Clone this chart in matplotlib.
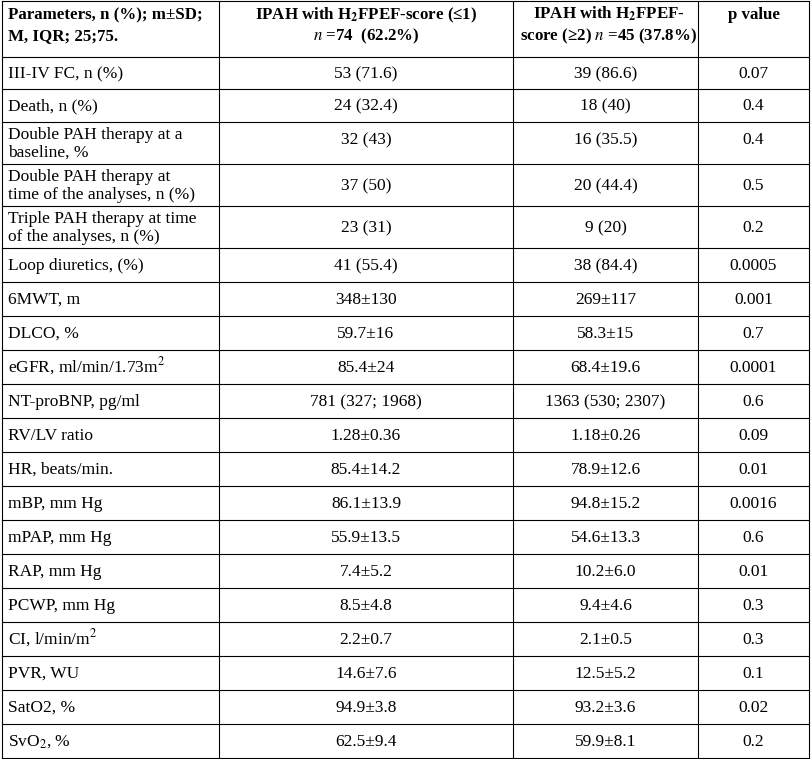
import matplotlib
matplotlib.use("Agg")
import matplotlib.pyplot as plt

plt.rcParams['font.family'] = ['Liberation Serif', 'DejaVu Serif']
plt.rcParams['mathtext.fontset'] = 'stix'

# datos de la tabla
parametros = ["III-IV FC, n (%)", "Death, n (%)",
              "Double PAH therapy at a\nbaseline, %",
              "Double PAH therapy at\ntime of the analyses, n (%)",
              "Triple PAH therapy at time\nof the analyses, n (%)",
              "Loop diuretics, (%)", "6MWT, m", "DLCO, %",
              "eGFR, ml/min/1.73m$^2$", "NT-proBNP, pg/ml", "RV/LV ratio",
              "HR, beats/min.", "mBP, mm Hg", "mPAP, mm Hg", "RAP, mm Hg",
              "PCWP, mm Hg", "CI, l/min/m$^2$", "PVR, WU", "SatO2, %", "SvO$_2$, %"]
grupo1 = ["53 (71.6)", "24 (32.4)", "32 (43)", "37 (50)", "23 (31)", "41 (55.4)",
          "348±130", "59.7±16", "85.4±24", "781 (327; 1968)", "1.28±0.36",
          "85.4±14.2", "86.1±13.9", "55.9±13.5", "7.4±5.2", "8.5±4.8",
          "2.2±0.7", "14.6±7.6", "94.9±3.8", "62.5±9.4"]
grupo2 = ["39 (86.6)", "18 (40)", "16 (35.5)", "20 (44.4)", "9 (20)", "38 (84.4)",
          "269±117", "58.3±15", "68.4±19.6", "1363 (530; 2307)", "1.18±0.26",
          "78.9±12.6", "94.8±15.2", "54.6±13.3", "10.2±6.0", "9.4±4.6",
          "2.1±0.5", "12.5±5.2", "93.2±3.6", "59.9±8.1"]
p_valor = ["0.07", "0.4", "0.4", "0.5", "0.2", "0.0005", "0.001", "0.7", "0.0001",
           "0.6", "0.09", "0.01", "0.0016", "0.6", "0.01", "0.3", "0.3", "0.1",
           "0.02", "0.2"]

W, H = 811, 759
fig = plt.figure(figsize=(W / 100, H / 100), dpi=100)
ax = fig.add_axes([0, 0, 1, 1])
ax.set_xlim(0, W)
ax.set_ylim(H, 0)
ax.axis('off')

xs = [2, 219, 513, 698, 809]
# alturas de filas
alturas = [56] + [32, 33, 42, 42, 42] + [34] * 15
ys = [1]
for h in alturas:
    ys.append(ys[-1] + h)
escala = (H - 2) / (ys[-1] - 1)
ys = [1 + (y - 1) * escala for y in ys]

for x in xs:
    ax.plot([x, x], [ys[0], ys[-1]], color='black', lw=0.8)
for y in ys:
    ax.plot([xs[0], xs[-1]], [y, y], color='black', lw=0.8)

fs = 12.5
# encabezado
kw = dict(fontsize=12.2, fontweight='bold', va='baseline')
ax.text(8, 19, "Parameters, n (%); m±SD;", ha='left', **kw)
ax.text(8, 40, "M, IQR; 25;75.", ha='left', **kw)
ax.text((xs[1] + xs[2]) / 2, 19, r"IPAH with H$_\mathbf{2}$FPEF-score (≤1)", ha='center', **kw)
ax.text((xs[1] + xs[2]) / 2, 40, r"$\mathbf{\mathit{n}}$ =74  (62.2%)", ha='center', **kw)
ax.text(533, 19, r"IPAH with H$_\mathbf{2}$FPEF-", ha='left', **kw)
ax.text(520, 40, r"score (≥2) $\mathbf{\mathit{n}}$ =45 (37.8%)", ha='left', **kw)
ax.text((xs[3] + xs[4]) / 2, 19, "p value", ha='center', **kw)

for i in range(len(parametros)):
    y0, y1 = ys[i + 1], ys[i + 2]
    yc = (y0 + y1) / 2
    lineas = parametros[i].split("\n")
    if len(lineas) == 1:
        ax.text(8, yc + 5, lineas[0], ha='left', va='baseline', fontsize=fs)
    else:
        ax.text(8, yc - 4, lineas[0], ha='left', va='baseline', fontsize=fs)
        ax.text(8, yc + 14, lineas[1], ha='left', va='baseline', fontsize=fs)
    yv = y0 + 17 if i == 2 else yc
    for x, txt in [((xs[1] + xs[2]) / 2, grupo1[i]), ((xs[2] + xs[3]) / 2, grupo2[i]),
                   ((xs[3] + xs[4]) / 2, p_valor[i])]:
        ax.text(x, yv + 5, txt, ha='center', va='baseline', fontsize=fs)

plt.savefig('out.png', dpi=100)
